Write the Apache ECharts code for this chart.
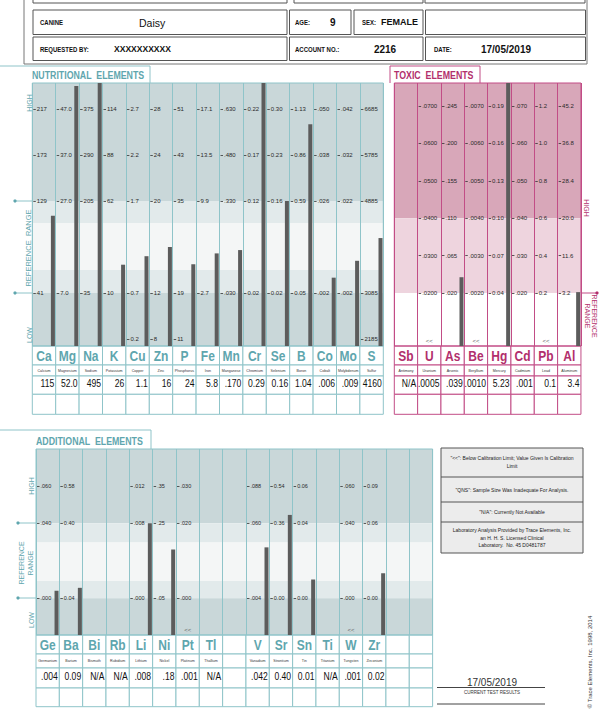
<!DOCTYPE html>
<html><head><meta charset="utf-8">
<script src="https://cdn.jsdelivr.net/npm/echarts@6/dist/echarts.min.js"></script>
<style>html,body{margin:0;padding:0;background:#fff}#c{width:600px;height:711px}</style>
</head><body><div id="c"></div>
<script>
// ---------------- DATA ----------------
const nutSymbols = ['Ca','Mg','Na','K','Cu','Zn','P','Fe','Mn','Cr','Se','B','Co','Mo','S'];
const nutNames = ['Calcium','Magnesium','Sodium','Potassium','Copper','Zinc','Phosphorus','Iron','Manganese','Chromium','Selenium','Boron','Cobalt','Molybdenum','Sulfur'];
const nutValues = [115, 52.0, 495, 26, 1.1, 16, 24, 5.8, 0.170, 0.29, 0.16, 1.04, 0.006, 0.009, 4160];
const nutValueText = ['115','52.0','495','26','1.1','16','24','5.8','.170','0.29','0.16','1.04','.006','.009','4160'];
const nutBelowLimit = [false,false,false,false,false,false,false,false,false,false,false,false,false,false,false];
const nutTickSteps = [-1, 0, 2, 3, 4];
const nutTickText = [
  ['', '41','129','173','217'],
  ['', '7.0','27.0','37.0','47.0'],
  ['', '35','205','290','375'],
  ['', '10','62','88','114'],
  ['0.2','0.7','1.7','2.2','2.7'],
  ['8','12','20','24','28'],
  ['11','19','35','43','51'],
  ['', '2.7','9.9','13.5','17.1'],
  ['', '.030','.330','.480','.630'],
  ['', '0.02','0.12','0.17','0.22'],
  ['', '0.02','0.16','0.23','0.30'],
  ['', '0.05','0.59','0.86','1.13'],
  ['', '.002','.026','.038','.050'],
  ['', '.002','.022','.032','.042'],
  ['2185','3085','4885','5785','6685']
];

const toxSymbols = ['Sb','U','As','Be','Hg','Cd','Pb','Al'];
const toxNames = ['Antimony','Uranium','Arsenic','Beryllium','Mercury','Cadmium','Lead','Aluminum'];
const toxValues = [null, 0.0005, 0.039, 0.0010, 5.23, 0.001, 0.1, 3.4];
const toxValueText = ['N/A','.0005','.039','.0010','5.23','.001','0.1','3.4'];
const toxBelowLimit = [false,true,false,true,false,false,true,false];
const toxTickSteps = [0, 1, 2, 3, 4, 5];
const toxTickText = [
  [],
  ['.0200','.0300','.0400','.0500','.0600','.0700'],
  ['.020','.065','.110','.155','.200','.245'],
  ['.0020','.0030','.0040','.0050','.0060','.0070'],
  ['0.04','0.07','0.10','0.13','0.16','0.19'],
  ['.020','.030','.040','.050','.060','.070'],
  ['0.2','0.4','0.6','0.8','1.0','1.2'],
  ['3.2','11.6','20.0','28.4','36.8','45.2']
];

const addSymbols = ['Ge','Ba','Bi','Rb','Li','Ni','Pt','Tl','','V','Sr','Sn','Ti','W','Zr','',''];
const addNames = ['Germanium','Barium','Bismuth','Rubidium','Lithium','Nickel','Platinum','Thallium','','Vanadium','Strontium','Tin','Titanium','Tungsten','Zirconium','',''];
const addValues = [0.004, 0.09, null, null, 0.008, 0.18, 0.001, null, null, 0.042, 0.40, 0.01, null, 0.001, 0.02, null, null];
const addValueText = ['.004','0.09','N/A','N/A','.008','.18','.001','N/A','','.042','0.40','0.01','N/A','.001','0.02','',''];
const addBelowLimit = [false,false,false,false,false,false,true,false,false,false,false,false,false,true,false,false,false];
const addTickSteps = [0, 2, 3];
const addTickText = [
  ['.000','.040','.060'],
  ['0.04','0.40','0.58'],
  [], [],
  ['.000','.008','.012'],
  ['.05','.25','.35'],
  ['.000','.020','.030'],
  [], [],
  ['.004','.060','.088'],
  ['0.00','0.36','0.54'],
  ['0.00','0.04','0.06'],
  [],
  ['.000','.040','.060'],
  ['0.00','0.06','0.09'],
  [], []
];

// ---------------- STYLE ----------------
const TEAL_TXT = '#5fa6ae', TEAL_LINE = '#8fc4c9';
const MAG_TXT = '#b22f6c', MAG_LINE = '#c24d86';
const SANS = '"Liberation Sans", Arial, sans-serif';
const BAR = '#5c5c5c';

const panels = [
  {x0:32.3, colW:23.4, top:83, bottom:346, kb:1.152, kt:4.565,
   steps:nutTickSteps, symbols:nutSymbols, names:nutNames, values:nutValues, valueText:nutValueText,
   tickText:nutTickText, below:nutBelowLimit,
   bands:[[2,4.565,'#c9d7d9'],[1.52,2,'#e2eaeb'],[0.5,1.52,'#f4f6f6'],[0,0.5,'#e2eaeb'],[-1.152,0,'#c9d7d9']],
   line:TEAL_LINE, text:TEAL_TXT, rows:[0,19,30,48.3,68.3], tickFont:6},
  {x0:394.3, colW:23.33, top:83, bottom:346, kb:1.417, kt:5.615,
   steps:toxTickSteps, symbols:toxSymbols, names:toxNames, values:toxValues, valueText:toxValueText,
   tickText:toxTickText, below:toxBelowLimit,
   bands:[[2,5.615,'#d8a7b9'],[0,2,'#eed4de'],[-1.417,0,'#ffffff']],
   line:MAG_LINE, text:MAG_TXT, rows:[0,19,30,48.3,68.3], tickFont:6},
  {x0:36, colW:23.33, top:449, bottom:635, kb:0.98, kt:3.98,
   steps:addTickSteps, symbols:addSymbols, names:addNames, values:addValues, valueText:addValueText,
   tickText:addTickText, below:addBelowLimit,
   bands:[[2,3.98,'#c9d7d9'],[1.49,2,'#e2eaeb'],[0.46,1.49,'#f4f6f6'],[0,0.46,'#e2eaeb'],[-0.98,0,'#c9d7d9']],
   line:TEAL_LINE, text:TEAL_TXT, rows:[0,19,33,53,71.7], tickFont:5.5}
];

const grids = [], xAxes = [], yAxes = [], series = [];

function addPanel(P) {
  const n = P.symbols.length;
  const W = P.colW * n, H = P.bottom - P.top;
  const g = grids.length;
  grids.push({left:P.x0, top:P.top, width:W, height:H, show:false});
  xAxes.push({gridIndex:g, type:'category', data:P.symbols.map((s,i)=>'c'+i), boundaryGap:true,
    axisLine:{show:false}, axisTick:{show:false}, axisLabel:{show:false, interval:0},
    splitLine:{show:true, interval:0, lineStyle:{color:P.line, width:1}}, z:3});
  yAxes.push({gridIndex:g, type:'value', min:-P.kb, max:P.kt, show:false});
  // background bands
  series.push({type:'custom', xAxisIndex:g, yAxisIndex:g, z:1, silent:true,
    data:P.bands.map(b=>[0,b[0],b[1]]),
    encode:{x:0, y:[1,2]},
    renderItem:(params, api)=>{
      const cs = params.coordSys;
      const y1 = api.coord([0, api.value(2)])[1];
      const y2 = api.coord([0, api.value(1)])[1];
      return {type:'rect', shape:{x:cs.x, y:y1, width:cs.width, height:y2-y1},
        style:{fill:P.bands[params.dataIndex][2]}};
    }});
  // frame
  series.push({type:'custom', xAxisIndex:g, yAxisIndex:g, z:3, silent:true,
    data:[[0,0]], encode:{x:0,y:1},
    renderItem:(params)=>{
      const cs = params.coordSys;
      return {type:'rect', shape:{x:cs.x, y:cs.y, width:cs.width, height:cs.height},
        style:{fill:'none', stroke:P.line, lineWidth:1}};
    }});
  // table below plot + "<<" flags
  series.push({type:'custom', xAxisIndex:g, yAxisIndex:g, z:2, silent:true,
    data:P.symbols.map((s,i)=>[i,0]), encode:{x:0,y:1},
    renderItem:(params, api)=>{
      const i = params.dataIndex, cs = params.coordSys;
      const cx = api.coord([i, 0])[0];
      const w = api.size([1, 0])[0];
      const xl = cx - w/2, y0 = cs.y + cs.height, R = P.rows;
      const ch = [];
      for (let r = 0; r < 4; r++) {
        ch.push({type:'rect', shape:{x:xl, y:y0+R[r], width:w, height:R[r+1]-R[r]},
          style:{fill:'#ffffff', stroke:P.line, lineWidth:1}});
      }
      const tx = (text, x, y, font, fill, align, sx) => ({type:'text', x:x, y:y, scaleX:sx||1,
        style:{text:text, font:font, fill:fill, textAlign:align, align:align, textVerticalAlign:'middle', verticalAlign:'middle'}});
      ch.push(tx(P.symbols[i], cx, y0+(R[0]+R[1])/2+1, 'bold 15px '+SANS, P.text, 'center', 0.8));
      ch.push(tx(P.names[i], cx, y0+(R[1]+R[2])/2, '4px '+SANS, '#333', 'center', 0.9));
      ch.push(tx(P.valueText[i], xl+w-1.5, y0+(R[2]+R[3])/2-1, '10px '+SANS, '#111', 'right', 0.86));
      if (P.below[i]) ch.push(tx('<<', cx, y0-5, '6px '+SANS, '#666', 'center'));
      return {type:'group', children:ch};
    }});
  // per-element columns, each with its own value axis
  for (let i = 0; i < n; i++) {
    const texts = P.tickText[i] || [];
    const tv = [], tl = [];
    texts.forEach((t) => { if (t !== '') { tv.push(parseFloat(t)); tl.push(t); } });
    if (!tv.length) continue;
    const t0 = parseFloat(texts[P.steps.indexOf(0)]);
    const t2 = parseFloat(texts[P.steps.indexOf(2)]);
    const step = (t2 - t0) / 2;
    const c = grids.length;
    grids.push({left:P.x0 + i*P.colW, top:P.top, width:P.colW, height:H, show:false});
    xAxes.push({gridIndex:c, type:'category', data:[P.symbols[i]], show:false});
    yAxes.push({gridIndex:c, type:'value', position:'left', offset:-1,
      min:t0 - P.kb*step, max:t0 + P.kt*step, z:4,
      axisLine:{show:false}, splitLine:{show:false},
      axisTick:{show:true, inside:true, length:2.5, customValues:tv, lineStyle:{color:'#333', width:0.8}},
      axisLabel:{show:true, inside:true, margin:3.5, customValues:tv, fontSize:P.tickFont,
        fontFamily:SANS, color:'#2a2a2a',
        formatter:(v)=>{ let b = 0; tv.forEach((x,j)=>{ if (Math.abs(x-v) < Math.abs(tv[b]-v)) b = j; }); return tl[b]; }}});
    const v = P.values[i];
    if (v !== null && !P.below[i]) {
      series.push({type:'custom', xAxisIndex:c, yAxisIndex:c, z:5, silent:true,
        data:[[0, v]], encode:{x:0, y:1},
        renderItem:(params, api)=>{
          const cs = params.coordSys;
          const yB = cs.y + cs.height;
          const yT = Math.max(cs.y, api.coord([0, api.value(1)])[1]);
          if (yT >= yB) return;
          return {type:'rect', shape:{x:cs.x+cs.width-4.8, y:yT, width:4, height:yB-yT}, style:{fill:BAR}};
        }});
    }
  }
}
panels.forEach(addPanel);

// ---------------- GRAPHIC (header, titles, side labels, notes) ----------------
const T = (text, x, y, font, fill, align, rot, sx) => ({type:'text', x:x, y:y, rotation:rot||0, scaleX:sx||1, silent:true, z:10,
  style:{text:text, font:font, fill:fill, textAlign:align||'left', align:align||'left', textVerticalAlign:'middle', verticalAlign:'middle'}});
const Rc = (x, y, w, h, stroke, fill, lw) => ({type:'rect', silent:true, z:9, shape:{x:x, y:y, width:w, height:h},
  style:{stroke:stroke, fill:fill||'none', lineWidth:lw||1}});
const PL = (pts, stroke) => ({type:'polyline', silent:true, z:9, shape:{points:pts}, style:{stroke:stroke, fill:'none', lineWidth:1}});
const Ci = (cx, cy, r, fill) => ({type:'circle', silent:true, z:10, shape:{cx:cx, cy:cy, r:r}, style:{fill:fill}});

const HDR = '#555';
const lab = 'bold 7.5px ' + SANS;
const NS = 0.8; // narrow scale
const graphic = [
  Rc(24, -6, 563, 70, '#777'),
  Rc(33, -20, 254, 23, HDR), Rc(294, -20, 129, 23, HDR), Rc(425, -20, 160, 23, HDR),
  Rc(33, 10, 254, 24.5, HDR), Rc(289.5, 10, 61.5, 24.5, HDR), Rc(354, 10, 69, 24.5, HDR), Rc(425.5, 10, 160, 24.5, HDR),
  Rc(33, 37, 254, 23.5, HDR), Rc(289.5, 37, 133.5, 23.5, HDR), Rc(425.5, 37, 160, 23.5, HDR),
  T('CANINE', 40, 22.5, lab, '#111', 'left', 0, NS),
  T('Daisy', 139, 22.5, '10.5px ' + SANS, '#111'),
  T('AGE:', 295, 22.5, lab, '#111', 'left', 0, NS),
  T('9', 330, 22, 'bold 10px ' + SANS, '#111'),
  T('SEX:', 362, 22.5, lab, '#111', 'left', 0, NS),
  T('FEMALE', 381, 22, 'bold 9.5px ' + SANS, '#111', 'left', 0, 0.95),
  T('REQUESTED BY:', 40, 49.5, lab, '#111', 'left', 0, NS),
  T('XXXXXXXXXX', 114, 49, 'bold 9px ' + SANS, '#111', 'left', 0, 0.95),
  T('ACCOUNT NO.:', 295, 49.5, lab, '#111', 'left', 0, NS),
  T('2216', 385, 49, 'bold 10px ' + SANS, '#111', 'center'),
  T('DATE:', 434, 49.5, lab, '#111', 'left', 0, NS),
  T('17/05/2019', 506, 49, 'bold 10px ' + SANS, '#111', 'center'),

  // Nutritional tab & side labels
  PL([[0,66],[150,66],[150,83]], TEAL_LINE),
  T('NUTRITIONAL  ELEMENTS', 32, 75.5, 'bold 11px ' + SANS, TEAL_TXT, 'left', 0, NS),
  T('HIGH', 29, 103, '7px ' + SANS, TEAL_TXT, 'center', Math.PI/2),
  T('REFERENCE  RANGE', 28.5, 248, '7.5px ' + SANS, TEAL_TXT, 'center', Math.PI/2),
  T('LOW', 29, 335, '7px ' + SANS, TEAL_TXT, 'center', Math.PI/2),
  PL([[15,201],[32,201]], TEAL_LINE), Ci(15, 201, 1.6, TEAL_TXT),
  PL([[15,293],[32,293]], TEAL_LINE), Ci(15, 293, 1.6, TEAL_TXT),

  // Toxic tab & side labels
  PL([[390,83],[390,66],[480,66],[480,83]], MAG_LINE),
  T('TOXIC  ELEMENTS', 394, 75.5, 'bold 11px ' + SANS, MAG_TXT, 'left', 0, NS),
  T('HIGH', 586, 208, '7px ' + SANS, MAG_TXT, 'center', -Math.PI/2),
  T('REFERENCE', 594, 316, '7px ' + SANS, MAG_TXT, 'center', -Math.PI/2),
  T('RANGE', 587, 316, '7px ' + SANS, MAG_TXT, 'center', -Math.PI/2),
  PL([[581,293],[597,293]], MAG_LINE), Ci(597, 293, 1.6, MAG_TXT),

  // Additional tab & side labels
  PL([[0,430],[151,430],[151,449]], TEAL_LINE),
  T('ADDITIONAL  ELEMENTS', 36, 441, 'bold 11px ' + SANS, TEAL_TXT, 'left', 0, NS),
  T('HIGH', 31, 486, '7px ' + SANS, TEAL_TXT, 'center', Math.PI/2),
  T('REFERENCE', 21, 563, '7px ' + SANS, TEAL_TXT, 'center', Math.PI/2),
  T('RANGE', 30.5, 563, '7px ' + SANS, TEAL_TXT, 'center', Math.PI/2),
  T('LOW', 31, 620, '7px ' + SANS, TEAL_TXT, 'center', Math.PI/2),
  PL([[18,523],[36,523]], TEAL_LINE), Ci(18, 523, 1.6, TEAL_TXT),
  PL([[18,598],[36,598]], TEAL_LINE), Ci(18, 598, 1.6, TEAL_TXT),

  // Notes box
  Rc(441, 448, 142, 105, '#555', '#ececec'),
  PL([[441,477],[583,477]], '#555'), PL([[441,502],[583,502]], '#555'), PL([[441,522],[583,522]], '#555'),
  T('"<<": Below Calibration Limit; Value Given Is Calibration', 512, 458, '5px ' + SANS, '#222', 'center'),
  T('Limit', 512, 466, '5px ' + SANS, '#222', 'center'),
  T('"QNS": Sample Size Was Inadequate For Analysis.', 512, 489.5, '5px ' + SANS, '#222', 'center'),
  T('"N/A": Currently Not Available', 512, 512, '5px ' + SANS, '#222', 'center'),
  T('Laboratory Analysis Provided by Trace Elements, Inc.', 512, 530, '5px ' + SANS, '#222', 'center'),
  T('an H. H. S. Licensed Clinical', 512, 537.5, '5px ' + SANS, '#222', 'center'),
  T('Laboratory.  No. 45 D0481787', 512, 545, '5px ' + SANS, '#222', 'center'),

  // Footer
  T('17/05/2019', 492, 682, '10px ' + SANS, '#333', 'center'),
  PL([[437,687.5],[545,687.5]], '#444'),
  T('CURRENT TEST RESULTS', 492, 692.5, '4.5px ' + SANS, '#333', 'center'),
  PL([[437,704],[545,704]], '#444'),
  T('\u00a9 Trace Elements, Inc. 1998, 2014', 590, 662, '6px ' + SANS, '#333', 'center', Math.PI/2)
];

const chart = echarts.init(document.getElementById('c'), null, {renderer:'svg'});
chart.setOption({
  animation:false,
  backgroundColor:'#ffffff',
  grid:grids, xAxis:xAxes, yAxis:yAxes, series:series,
  graphic:graphic
});
</script>
</body></html>
